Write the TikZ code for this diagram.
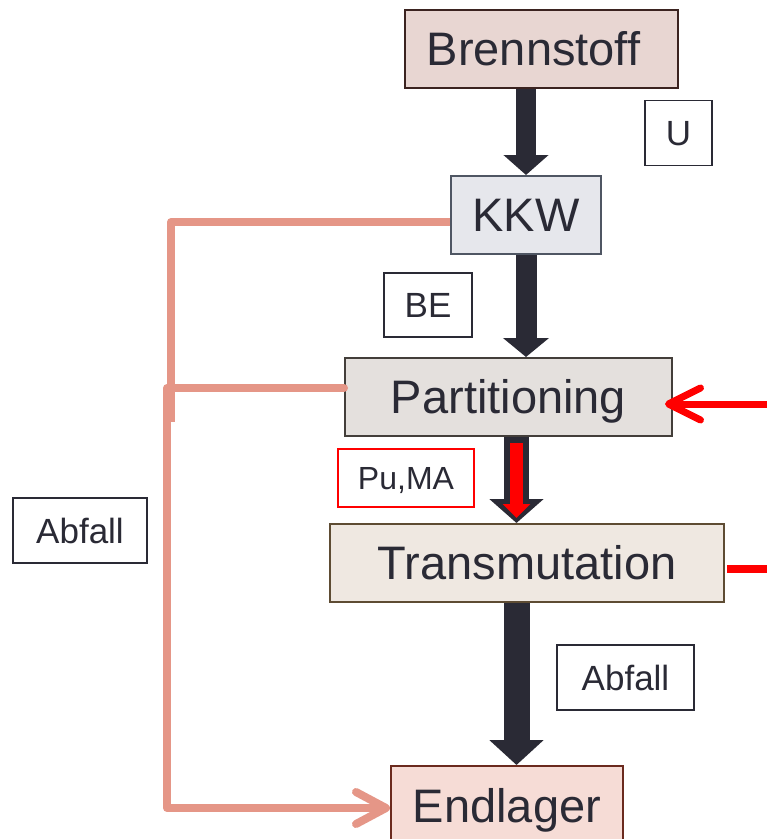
\documentclass[tikz,border=0pt]{standalone}
\usepackage{fontspec}
\setmainfont{Liberation Sans}
\usetikzlibrary{arrows.meta}
\definecolor{ink}{HTML}{2A2A35}
\definecolor{salmon}{HTML}{E59687}
\definecolor{brennfill}{HTML}{E8D6D2}
\definecolor{brennline}{HTML}{3B2320}
\definecolor{kkwfill}{HTML}{E6E7EC}
\definecolor{kkwline}{HTML}{4F5663}
\definecolor{partfill}{HTML}{E4E0DD}
\definecolor{partline}{HTML}{433E3A}
\definecolor{transfill}{HTML}{EFE8E1}
\definecolor{transline}{HTML}{5E4C33}
\definecolor{endlfill}{HTML}{F6DCD6}
\definecolor{endlline}{HTML}{6B2A1E}
\definecolor{brightred}{HTML}{FF0000}
\begin{document}
\begin{tikzpicture}[x=1pt,y=-1pt,
  box/.style={rectangle, line width=2pt, inner sep=0pt, text height=33.6pt, text depth=0pt, text=ink, font=\fontsize{47}{56}\selectfont},
  lbl/.style={rectangle, draw=ink, fill=white, line width=1.6pt, inner sep=0pt, text height=25pt, text depth=0pt, text=ink, font=\fontsize{35}{42}\selectfont},
  fb/.style={salmon, line width=8pt, line join=round, line cap=round},
  hot/.style={brightred, line width=7pt}
]
\useasboundingbox (0,0) rectangle (767,839);

% main boxes
\node[box, fill=brennfill, draw=brennline, minimum width=273pt, minimum height=78pt] (brenn) at (541.5,49) {\hspace*{-16pt}Brennstoff};
\node[box, fill=kkwfill, draw=kkwline, minimum width=150pt, minimum height=78pt] (kkw) at (526,215) {KKW};
\node[box, fill=partfill, draw=partline, minimum width=327pt, minimum height=78pt] (part) at (508.5,397) {Partitioning};
\node[box, fill=transfill, draw=transline, minimum width=394pt, minimum height=78pt] (trans) at (527,563) {Transmutation};
\node[box, fill=endlfill, draw=endlline, minimum width=232pt, minimum height=80pt] (endl) at (507,806) {Endlager};

% labels
\node[lbl, minimum width=67pt, minimum height=65pt] (u) at (678.5,133) {U};
\node[lbl, minimum width=88pt, minimum height=64pt] (be) at (428,305) {BE};
\node[lbl, draw=brightred, minimum width=136pt, minimum height=58pt, text height=23pt, font=\fontsize{32}{38}\selectfont] (puma) at (406,478) {Pu,MA};
\node[lbl, minimum width=134pt, minimum height=65pt] (abf1) at (80,530.5) {Abfall};
\node[lbl, minimum width=137pt, minimum height=65pt] (abf2) at (625.5,677.5) {Abfall};

% block arrows
\coordinate (ax) at (516.5,0);
\draw[ink, line width=20pt, -{Triangle[width=44pt,length=20pt]}] (kkw.north |- brenn.south) -- (kkw.north);
\draw[ink, line width=21pt, -{Triangle[width=45pt,length=19pt]}] (kkw.south) -- (kkw.south |- part.north);
\draw[ink, line width=25pt, -{Triangle[width=53pt,length=24pt]}] (part.south -| ax) -- (trans.north -| ax);
\draw[brightred, line width=13pt, -{Triangle[width=27pt,length=14pt]}, shorten <=6pt, shorten >=5pt] (part.south -| ax) -- (trans.north -| ax);
\draw[ink, line width=26pt, -{Triangle[width=53pt,length=25pt]}] (trans.south -| ax) -- (endl.north -| ax);

% feedback (salmon) lines
\coordinate (s0) at (171,222);
\coordinate (s1) at (171,422);
\coordinate (s2) at (167,388);
\coordinate (s3) at (167,808);
\draw[fb, line cap=butt] (s0 -| kkw.west) -- (s0) -- (s1);
\draw[fb, -{Straight Barb[round, length=30pt, width=32pt]}] (s2 -| part.west) -- (s2) -- (s3) -- (s3 -| endl.west);

% red inputs
\coordinate (r0) at (767,404);
\draw[hot, -{Straight Barb[round, length=32pt, width=32pt]}, shorten >=-8pt] (r0) -- (r0 -| part.east);
\coordinate (r1) at (727,569);
\coordinate (r2) at (767,569);
\draw[hot, line width=8pt] (r1) -- (r2);
\end{tikzpicture}
\end{document}
